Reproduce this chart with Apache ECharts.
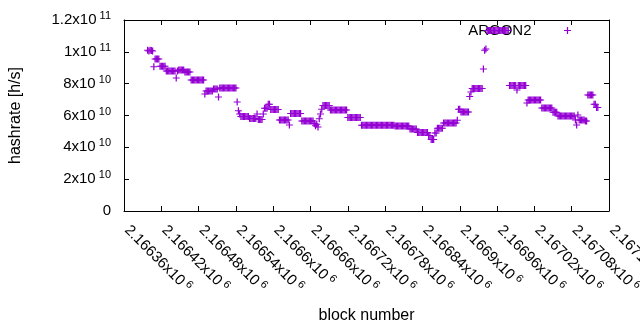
<!DOCTYPE html>
<html><head><meta charset="utf-8">
<script src="https://cdn.jsdelivr.net/npm/echarts@6/dist/echarts.min.js"></script>
<style>html,body{margin:0;padding:0;background:#fff}#c{width:640px;height:330px}</style>
</head><body><div id="c"></div>
<script>
const seriesName = 'ARGON2';
const xAxisName = 'block number';
const yAxisName = 'hashrate [h/s]';
// block numbers of the samples: firstBlock, firstBlock+blockStep, ...
const firstBlock = 2166398;
const blockStep = 2;
// hashrate in units of 1e10 h/s, one value per sample
const hashrate1e10 = [
10.10,10.05,10.10,10.08,10.05,
9.06,
9.55,9.55,9.55,9.55,
9.10,9.10,9.10,9.10,9.10,
8.79,8.79,8.79,8.79,8.79,8.79,8.79,8.79,
8.35,
8.79,
8.86,8.86,8.86,8.86,8.86,
8.73,8.73,8.73,8.73,8.73,
8.23,8.23,8.23,8.23,8.23,8.23,8.23,8.23,8.23,8.23,8.23,
7.35,
7.54,7.54,7.54,7.54,7.54,7.54,
7.66,7.66,7.66,7.66,
7.16,
7.73,7.73,7.73,7.73,7.73,7.73,7.73,7.73,7.73,7.73,7.73,7.73,7.73,7.73,
6.85,6.30,6.10,
5.94,5.94,5.94,5.94,5.94,5.94,5.94,
5.81,5.81,5.81,5.81,5.81,5.81,
6.09,
5.75,5.75,5.75,5.75,
6.10,
6.45,6.45,6.45,
6.70,6.70,
6.38,6.38,6.38,6.38,6.38,6.38,6.38,
5.72,5.72,5.72,5.72,5.72,5.72,5.72,5.72,
5.40,
6.12,6.12,6.12,6.12,6.12,6.12,6.12,6.12,6.12,
5.65,5.65,5.65,5.65,5.65,5.65,5.65,5.65,5.65,5.65,
5.50,5.35,5.45,5.28,
5.80,6.10,6.40,
6.63,6.63,6.63,6.63,6.63,6.63,
6.34,6.34,6.34,6.34,6.34,6.34,6.34,6.34,6.34,6.34,6.34,6.34,6.34,6.34,
5.88,5.88,5.88,5.88,5.88,5.88,5.88,5.88,5.88,5.88,5.88,
5.38,5.38,5.38,5.38,5.38,5.38,5.38,5.38,5.38,5.38,5.38,5.38,5.38,5.38,5.38,5.38,5.38,5.38,5.38,5.38,5.38,5.38,5.38,5.38,5.38,5.38,5.38,
5.34,5.34,5.34,5.34,5.34,5.34,5.34,5.34,5.34,5.34,5.34,5.34,
5.15,5.15,5.15,5.15,5.15,5.15,
4.93,4.93,4.93,4.93,4.93,4.93,4.93,4.93,4.93,
4.75,4.75,
4.50,4.50,4.50,
4.90,4.90,
5.20,5.20,5.20,5.20,5.20,
5.53,5.53,5.53,5.53,5.53,5.53,5.53,5.53,5.53,5.53,5.53,
5.70,
6.40,6.40,
6.22,6.22,6.22,6.22,6.22,6.22,6.22,
7.20,7.47,
7.70,7.70,7.70,7.70,7.70,7.70,7.70,7.70,7.70,
8.92,10.10,10.18,
11.34,11.34,11.34,11.34,11.34,11.34,11.34,11.34,11.34,11.34,11.34,11.34,11.34,11.34,11.34,11.34,11.34,11.34,
7.88,7.88,7.88,7.88,7.88,7.88,7.60,7.88,7.88,7.88,7.88,7.88,7.88,7.88,
6.78,
6.97,6.97,6.97,6.97,6.97,6.97,6.97,6.97,6.97,6.97,6.97,
6.47,6.47,6.47,6.47,6.47,6.47,6.47,6.47,6.47,
6.20,6.20,6.20,6.20,
5.97,5.97,5.97,5.97,5.97,5.97,5.97,5.97,5.97,5.97,5.97,5.97,5.97,5.97,
5.72,5.40,6.03,
5.72,5.72,5.72,5.72,5.72,
5.65,5.65,
7.29,7.29,7.29,7.29,7.29,
6.70,6.70,6.50,6.50
];
const xMin = 2166360, xMax = 2167140, xStep = 60;
const yMin = 0, yMax = 1.2e11, yStep = 2e10;

const font = '"Liberation Sans", Arial, sans-serif';
const plus = 'path://M2.875,0H4.125V3H7V4H4.125V7H2.875V4H0V3H2.875Z';
const points = hashrate1e10.map((v, i) => [firstBlock + i * blockStep, v * 1e10]);

function sci(v) {
  if (v === 0) return '{m|0}';
  const e = Math.floor(Math.log10(v) + 1e-9);
  const m = parseFloat((v / Math.pow(10, e)).toFixed(6));
  return '{m|' + m + 'x10}{s| ' + e + '}';
}
const rich = {
  m: { fontSize: 15, fontFamily: font, color: '#000' },
  s: { fontSize: 11, fontFamily: font, color: '#000', padding: [0, 0, 8, 0] }
};
const axisLine = { show: true, onZero: false, lineStyle: { color: '#000', width: 1 } };
const axisTick = { show: true, inside: true, length: 5, lineStyle: { color: '#000', width: 1 } };

const chart = echarts.init(document.getElementById('c'), null, { renderer: 'canvas' });
chart.setOption({
  animation: false,
  backgroundColor: '#fff',
  grid: { left: 124, right: 31, top: 20, bottom: 119, containLabel: false, outerBoundsMode: 'none' },
  legend: {
    data: [seriesName], right: 69, top: 23, padding: 0,
    itemWidth: 62, itemHeight: 7, align: 'right', icon: plus,
    textStyle: { fontSize: 15, fontFamily: font, color: '#000' }
  },
  xAxis: [{
    type: 'value', min: xMin, max: xMax, interval: xStep,
    name: xAxisName, nameLocation: 'middle', nameGap: 97,
    nameTextStyle: { fontSize: 16, fontFamily: font, color: '#000' },
    axisLine, axisTick, splitLine: { show: false },
    axisLabel: { rotate: -45, margin: 14, padding: [0, 0, 0, 4], formatter: sci, rich, showMinLabel: true, showMaxLabel: true, hideOverlap: false }
  }, {
    type: 'value', position: 'top', min: xMin, max: xMax, interval: xStep,
    axisLine, axisTick, axisLabel: { show: false }, splitLine: { show: false }
  }],
  yAxis: [{
    type: 'value', min: yMin, max: yMax, interval: yStep,
    name: yAxisName, nameLocation: 'middle', nameGap: 100,
    nameTextStyle: { fontSize: 16, fontFamily: font, color: '#000' },
    axisLine, axisTick, splitLine: { show: false },
    axisLabel: { margin: 13, formatter: sci, rich }
  }, {
    type: 'value', position: 'right', min: yMin, max: yMax, interval: yStep,
    axisLine, axisTick, axisLabel: { show: false }, splitLine: { show: false }
  }],
  series: [{
    name: seriesName, type: 'scatter', data: points, z: 5,
    symbol: plus, symbolSize: 7,
    itemStyle: { color: '#9400d3', opacity: 1 },
    emphasis: { disabled: true }
  }]
});
</script></body></html>
